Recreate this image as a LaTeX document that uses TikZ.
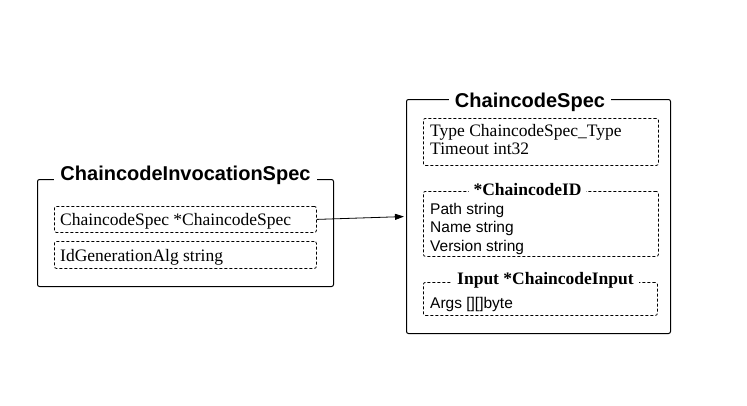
\documentclass[tikz,border=0pt]{standalone}
\usepackage{fontspec}
\setmainfont{Liberation Serif}
\setsansfont{Liberation Sans}
\usetikzlibrary{arrows.meta}
\tikzset{
  outerbox/.style={draw, line width=1pt, rounded corners=2pt, inner sep=0pt, anchor=north west},
  fieldbox/.style={draw, line width=0.8pt, dash pattern=on 3pt off 2pt, rounded corners=2pt, inner sep=0pt, anchor=north west},
  maintitle/.style={fill=white, anchor=base, inner xsep=6pt, inner ysep=1pt, font=\sffamily\bfseries\fontsize{20}{22}\selectfont},
  subtitle/.style={fill=white, anchor=base, inner xsep=5pt, inner ysep=1pt, font=\rmfamily\bfseries\fontsize{17.5}{20}\selectfont},
  serifline/.style={anchor=base west, inner sep=0pt, font=\rmfamily\fontsize{17.5}{20}\selectfont},
  sansline/.style={anchor=base west, inner sep=0pt, font=\sffamily\fontsize{15.5}{18}\selectfont},
}
\begin{document}
\begin{tikzpicture}[x=1pt,y=-1pt]
\useasboundingbox[fill=white] (0,0) rectangle (747,405);
% left structure
\node[outerbox, minimum width=296pt, minimum height=107pt] (inv) at (37,179) {};
\node[maintitle] (invtitle) at (185.5,180) {ChaincodeInvocationSpec};
\node[fieldbox, minimum width=262pt, minimum height=26pt] (ccs) at (54,206) {};
\node[serifline] (ccstext) at (60,225) {ChaincodeSpec *ChaincodeSpec};
\node[fieldbox, minimum width=262pt, minimum height=27pt] (idg) at (54,241) {};
\node[serifline] (idgtext) at (60,261.7) {IdGenerationAlg string};
% right structure
\node[outerbox, minimum width=264pt, minimum height=234pt] (spec) at (406,99) {};
\node[maintitle] (spectitle) at (530,107) {ChaincodeSpec};
\node[fieldbox, minimum width=235pt, minimum height=47pt] (typebox) at (423,118) {};
\node[serifline] (typetext) at (430,136.7) {Type ChaincodeSpec\_Type};
\node[serifline] (timetext) at (430,154) {Timeout int32};
\node[fieldbox, minimum width=235pt, minimum height=65pt] (idbox) at (423,191) {};
\node[subtitle] (idtitle) at (527.5,195) {*ChaincodeID};
\node[sansline] (pathtext) at (430,214) {Path string};
\node[sansline] (nametext) at (430,232.7) {Name string};
\node[sansline] (vertext) at (430,251.7) {Version string};
\node[fieldbox, minimum width=234pt, minimum height=33pt] (inbox) at (423,282) {};
\node[subtitle] (intitle) at (545.5,284.7) {Input *ChaincodeInput};
\node[sansline] (argstext) at (430,308.7) {Args [][]byte};
% connector
\draw[line width=0.8pt, -{Triangle[length=9pt,width=6pt]}, shorten >=2pt] (ccs.east) -- (spec.west);
\end{tikzpicture}
\end{document}
